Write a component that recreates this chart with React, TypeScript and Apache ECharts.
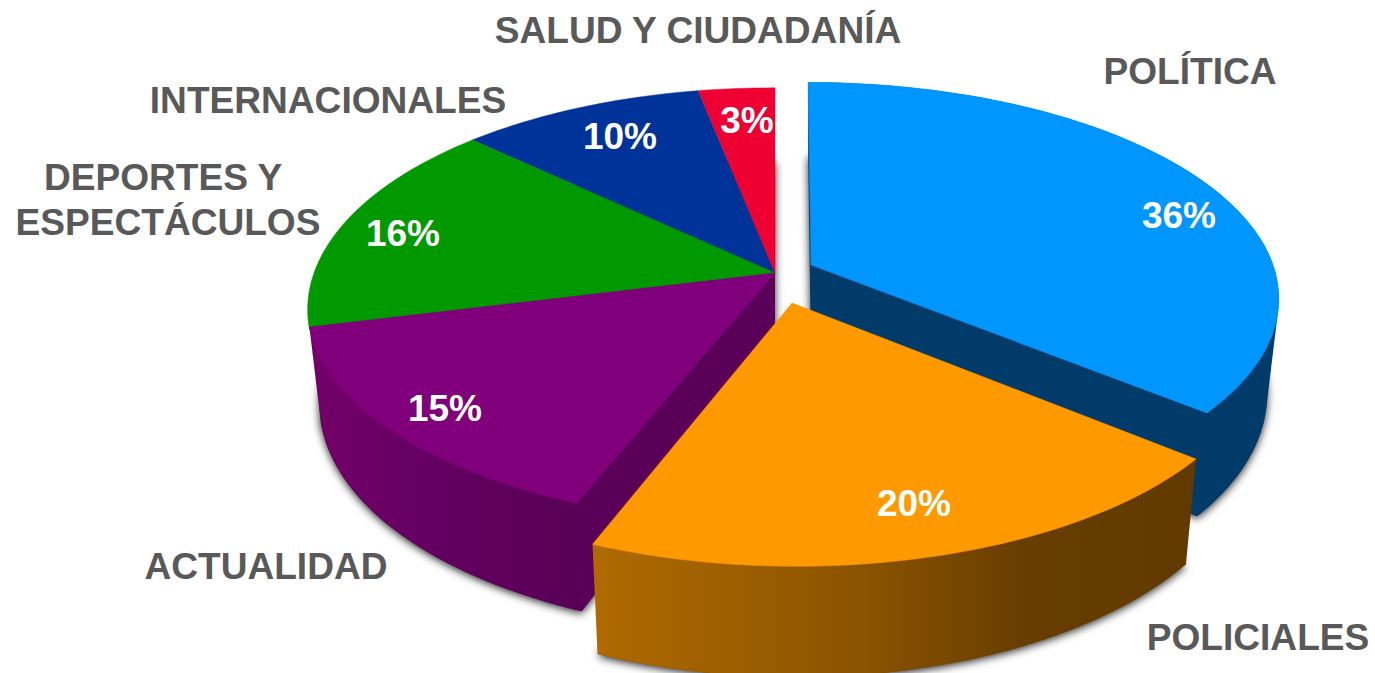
import React, { useEffect, useRef } from "react";
import * as echarts from "echarts";

// ---- data ----
const categories = ["POLÍTICA", "POLICIALES", "ACTUALIDAD", "DEPORTES Y \nESPECTÁCULOS", "INTERNACIONALES", "SALUD Y CIUDADANÍA"];
const shares = [36, 20, 15, 16, 10, 3];
const percentLabels = ["36%", "20%", "15%", "16%", "10%", "3%"];

// ---- look and layout ----
const topColors = ["#0096ff", "#ff9900", "#7f007a", "#009900", "#003399", "#ee0033"];
const wallColors = ["#003b69", "#633a00", "#5a0058", null, null, null];
const apexes = [[811, 265], [792, 303], [775, 273], [775, 273], [775, 273], [775, 273]];
const perspectives = [0.15, 0.172, 0.172, 0.172, 0.172, 0.172];
const spansX = [462, 464, 461, 461, 461, 461];
const spansY = [210, 218, 208, 217, 217, 217];
const depthExtras = [0, 2, 0, 0, 0, 0];
const tailLeans = [0, 0, 0, 0, 0, 3];
const paintOrder = [1, 6, 4, 3, 2, 2];
const categoryAnchors = [[1190, 71], [1258, 637], [266, 566], [168, 199], [328, 100], [698, 30]];
const percentAnchors = [[1179, 215], [914, 503], [445, 408], [403, 233], [620, 136], [747, 120]];

const WIDTH = 1375;
const HEIGHT = 673;
const SKEW = 0.016;
const DEPTH_MID = 92;
const DEPTH_SLOPE = 23.5;
const BOTTOM_SCALE = 0.975;
const FONT = '"Liberation Sans", Arial, sans-serif';

function rim(i: number, deg: number, lower: boolean, lean = 0) {
  const apex = apexes[i];
  const a = (deg * Math.PI) / 180;
  const u = Math.sin(a);
  const v = -Math.cos(a);
  const w = 1 - perspectives[i] * v;
  const s = lower ? BOTTOM_SCALE : 1;
  const dy = (spansY[i] * v) / w;
  const dx = (spansX[i] * u) / w + SKEW * dy + lean;
  const depth = lower ? DEPTH_MID + DEPTH_SLOPE * v + depthExtras[i] : 0;
  return [apex[0] + s * dx, apex[1] + s * dy + depth];
}

function arcPoints(i: number, from: number, to: number, lower: boolean) {
  const n = Math.max(4, Math.ceil((to - from) / 1.5));
  const out: number[][] = [];
  for (let k = 0; k <= n; k++) {
    const t = k / n;
    out.push(rim(i, from + (to - from) * t, lower, tailLeans[i] * t));
  }
  return out;
}

function hull(points: number[][]) {
  const pts = points.slice().sort((a, b) => a[0] - b[0] || a[1] - b[1]);
  const cross = (o: number[], a: number[], b: number[]) =>
    (a[0] - o[0]) * (b[1] - o[1]) - (a[1] - o[1]) * (b[0] - o[0]);
  const lower: number[][] = [];
  for (const p of pts) {
    while (lower.length >= 2 && cross(lower[lower.length - 2], lower[lower.length - 1], p) <= 0) lower.pop();
    lower.push(p);
  }
  const upper: number[][] = [];
  for (const p of pts.slice().reverse()) {
    while (upper.length >= 2 && cross(upper[upper.length - 2], upper[upper.length - 1], p) <= 0) upper.pop();
    upper.push(p);
  }
  return lower.slice(0, -1).concat(upper.slice(0, -1));
}

const shadow = { shadowBlur: 9, shadowColor: "rgba(0,0,0,0.85)", shadowOffsetX: 0, shadowOffsetY: 2 };

function wallFill(i: number) {
  if (i === 1)
    return new echarts.graphic.LinearGradient(0, 0, 1, 0, [
      { offset: 0, color: "#b06a00" },
      { offset: 0.45, color: "#8a5300" },
      { offset: 0.72, color: "#673d00" },
      { offset: 1, color: "#623a00" },
    ]);
  if (i === 2)
    return new echarts.graphic.LinearGradient(0, 0, 1, 0, [
      { offset: 0, color: "#730069" },
      { offset: 0.5, color: "#620060" },
      { offset: 1, color: "#590056" },
    ]);
  return wallColors[i] as string;
}

function renderItem(params: any, api: any) {
  const i = params.dataIndex;
  const total = shares.reduce((a, b) => a + b, 0);
  const before = shares.slice(0, i).reduce((a, b) => a + b, 0);
  const from = (before / total) * 360;
  const to = from + (api.value(0) / total) * 360;
  const apex = apexes[i];
  const z = paintOrder[i] * 10;
  const apexLow = [apex[0], apex[1] + DEPTH_MID + depthExtras[i]];
  const children: any[] = [];
  const up = arcPoints(i, from, to, false);
  const low = arcPoints(i, from, to, true);

  // the underside of the slice casts the soft shadow
  children.push({
    type: "polygon",
    z2: z,
    shape: { points: [apexLow].concat(low) },
    style: { fill: wallColors[i] || topColors[i], ...shadow },
  });
  if (wallColors[i]) {
    children.push({
      type: "polygon",
      z2: z + 1,
      shape: { points: hull(up.concat(low)) },
      style: { fill: wallFill(i) },
    });
    if (i !== 1) {
      const edge = i === 0 ? to : from;
      children.push({
        type: "polygon",
        z2: z + 2,
        shape: { points: [apex, rim(i, edge, false), rim(i, edge, true), apexLow] },
        style: { fill: wallColors[i] as string },
      });
    }
  }
  children.push({
    type: "polygon",
    z2: z + 3,
    shape: { points: [apex].concat(up) },
    style: { fill: topColors[i], stroke: topColors[i], lineWidth: 0.5 },
  });
  children.push({
    type: "text",
    z2: 100,
    style: {
      x: percentAnchors[i][0],
      y: percentAnchors[i][1],
      text: percentLabels[i],
      fill: "#ffffff",
      font: `bold 37px ${FONT}`,
      textAlign: "center",
      textVerticalAlign: "middle",
    },
  });
  children.push({
    type: "text",
    z2: 100,
    style: {
      x: categoryAnchors[i][0],
      y: categoryAnchors[i][1],
      text: categories[i],
      fill: "#595959",
      font: `bold 37.1px ${FONT}`,
      lineHeight: 45,
      textAlign: "center",
      textVerticalAlign: "middle",
    },
  });
  return { type: "group", children };
}

export default function App() {
  const ref = useRef<HTMLDivElement>(null);
  useEffect(() => {
    if (!ref.current) return;
    const chart = echarts.init(ref.current, null, { renderer: "svg" });
    chart.setOption({
      animation: false,
      backgroundColor: "#ffffff",
      series: [
        {
          type: "custom",
          coordinateSystem: "none",
          silent: true,
          renderItem,
          data: shares.map((value, i) => ({ name: categories[i], value })),
        },
      ],
    });
    return () => chart.dispose();
  }, []);
  return <div ref={ref} style={{ position: "absolute", left: 0, top: 0, width: WIDTH, height: HEIGHT }} />;
}
